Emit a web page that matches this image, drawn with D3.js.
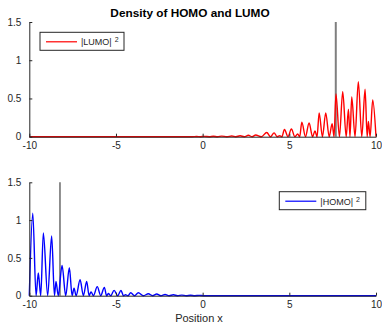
<html>
<head>
    <meta charset="utf-8">
    <script src="https://d3js.org/d3.v7.min.js"></script>
    <style>
        body { margin: 0; background: #fff; }
        text { font-family: "Liberation Sans", Arial, sans-serif; fill: #262626; }
        .axis path, .axis line { stroke: #262626; }
    </style>
</head>
<body>
    <svg id="chart" width="382" height="325"></svg>
    <script>
        // |LUMO|^2 (peaks and nodes)
        const lumoX = [-10, -0.6, -0.35, -0.12, 0.1, 0.38, 0.62, 0.86, 1.1, 1.4, 1.68, 1.92, 2.16, 2.4, 2.64, 2.85, 3.06,
            3.38, 3.70, 3.91, 4.12, 4.3, 4.45, 4.57, 4.72, 4.92, 5.12, 5.32, 5.48, 5.6, 5.72, 5.93, 6.14, 6.34, 6.48,
            6.6, 6.72, 6.91, 7.10, 7.3, 7.47, 7.58, 7.69, 7.89, 8.08, 8.28, 8.41, 8.5, 8.60, 8.79, 8.98, 9.18, 9.37,
            9.49, 9.56, 9.66, 9.81, 10];
        const lumoY = [0, 0, 0.003, 0, 0.004, 0, 0.006, 0, 0.008, 0, 0.01, 0, 0.012, 0, 0.018, 0, 0.022,
            0, 0.055, 0, 0.05, 0, 0.012, 0, 0.095, 0, 0.1, 0, 0.035, 0, 0.19, 0, 0.18, 0, 0.075,
            0, 0.31, 0, 0.31, 0, 0.17, 0, 0.56, 0, 0.59, 0, 0.36, 0, 0.52, 0, 0.72, 0, 0.62,
            0, 0.2, 0, 0.48, 0];

        // |HOMO|^2
        const homoX = [-10, -9.8, -9.61, -9.48, -9.34, -9.19, -8.94, -8.71, -8.55, -8.46, -8.33, -8.11, -7.9, -7.69,
            -7.53, -7.42, -7.3, -7.07, -6.88, -6.69, -6.55, -6.44, -6.3, -6.08, -5.88, -5.67, -5.54, -5.44, -5.3,
            -5.11, -4.9, -4.71, -4.57, -4.45, -4.3, -4.15, -3.93, -3.71, -3.42, -3.13, -2.89, -2.65, -2.41, -2.17,
            -1.93, -1.69, -1.45, -1.2, -0.95, -0.7, -0.45, -0.2, 0.05, 10];
        const homoY = [0, 1.09, 0, 0.30, 0, 0.83, 0, 0.79, 0, 0.19, 0, 0.40, 0, 0.37,
            0, 0.10, 0, 0.21, 0, 0.19, 0, 0.05, 0, 0.12, 0, 0.11, 0, 0.03, 0,
            0.07, 0, 0.07, 0, 0.012, 0, 0.04, 0, 0.04, 0, 0.025, 0, 0.022, 0, 0.015,
            0, 0.012, 0, 0.008, 0, 0.006, 0, 0.004, 0, 0];

        const xTicks = [-10, -5, 0, 5, 10];
        const yTicks = [0, 0.5, 1, 1.5];
        const lumoMark = 7.68;
        const homoMark = -8.23;

        const svg = d3.select("#chart");
        const left = 29.3, right = 376;

        const x = d3.scaleLinear().domain([-10, 10]).range([left, right]);

        function panel(top, bottom, xs, ys, color, mark, markStyle, legend) {
            const y = d3.scaleLinear().domain([0, 1.5]).range([bottom, top]);
            const g = svg.append("g");

            // vertical marker line
            g.append("line")
                .attr("x1", x(mark)).attr("x2", x(mark))
                .attr("y1", y(0)).attr("y2", y(1.5))
                .attr("stroke", markStyle.color)
                .attr("stroke-opacity", markStyle.opacity)
                .attr("stroke-width", markStyle.width);

            const pts = xs.map((v, i) => [v, ys[i]]);
            g.append("path")
                .datum(pts)
                .attr("fill", "none")
                .attr("stroke", color)
                .attr("stroke-width", 1.4)
                .attr("d", d3.line().x(d => x(d[0])).y(d => y(d[1])).curve(d3.curveMonotoneX));

            g.append("g")
                .attr("class", "axis")
                .attr("transform", "translate(" + left + ",0)")
                .call(d3.axisLeft(y).tickValues(yTicks).tickSizeInner(-3).tickSizeOuter(0).tickPadding(8)
                    .tickFormat(d => String(d)))
                .call(a => a.selectAll("text").attr("font-size", 10).attr("font-family", null));

            g.append("g")
                .attr("class", "axis")
                .attr("transform", "translate(0," + bottom + ")")
                .call(d3.axisBottom(x).tickValues(xTicks).tickSizeInner(-3).tickSizeOuter(0).tickPadding(5)
                    .tickFormat(d => String(d)))
                .call(a => a.selectAll("text").attr("font-size", 10).attr("font-family", null));

            // legend
            const lg = g.append("g").attr("transform", "translate(" + legend.x + "," + legend.y + ")");
            lg.append("rect")
                .attr("width", legend.w).attr("height", 18)
                .attr("fill", "#fff").attr("stroke", "#262626").attr("stroke-width", 1);
            lg.append("line")
                .attr("x1", 6).attr("x2", 37).attr("y1", 9.5).attr("y2", 9.5)
                .attr("stroke", color).attr("stroke-width", 1.2);
            const t = lg.append("text").attr("x", 41).attr("y", 13).attr("font-size", 9);
            t.append("tspan").text(legend.label);
            t.append("tspan").attr("dx", 3).attr("dy", -3).attr("font-size", 7).text("2");
        }

        panel(22, 136.7, lumoX, lumoY, "#ff0000", lumoMark,
            { color: "#000", opacity: 0.5, width: 2 },
            { x: 40, y: 32.3, w: 84, label: "|LUMO|" });
        panel(182.3, 295.7, homoX, homoY, "#0000ff", homoMark,
            { color: "#333", opacity: 1, width: 1.1 },
            { x: 279.3, y: 191.7, w: 86.5, label: "|HOMO|" });

        svg.append("text")
            .attr("x", 190).attr("y", 16.8)
            .attr("text-anchor", "middle")
            .attr("font-weight", "bold")
            .attr("font-size", 11.8)
            .style("fill", "#000")
            .text("Density of HOMO and LUMO");

        svg.append("text")
            .attr("x", 199).attr("y", 322)
            .attr("text-anchor", "middle")
            .attr("font-size", 11)
            .text("Position x");
    </script>
</body>
</html>
